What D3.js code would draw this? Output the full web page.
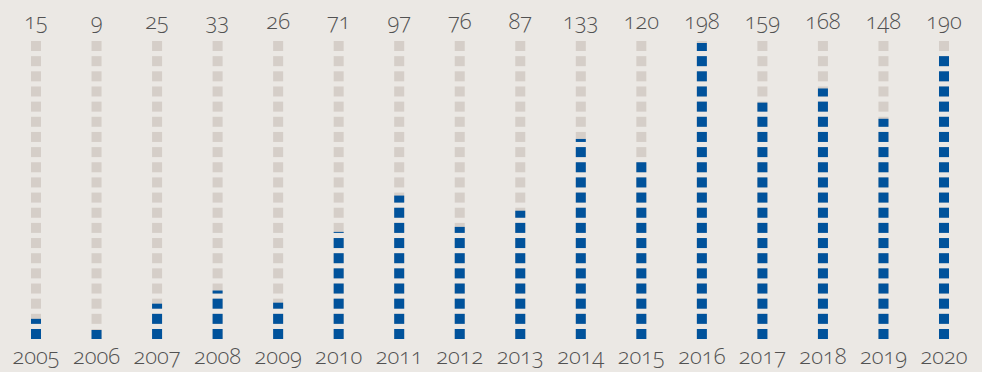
<!DOCTYPE html>
<html>
<head>
<meta charset="utf-8">
<script src="https://cdn.jsdelivr.net/npm/d3@7/dist/d3.min.js"></script>
<style>
  html, body { margin: 0; padding: 0; background: #ebe8e4; }
  svg { display: block; }
  text { font-family: "Open Sans", "Noto Sans", sans-serif; font-weight: 350; font-feature-settings: "onum" 1; fill: #525252; }
</style>
</head>
<body>
<svg id="chart" width="982" height="372"></svg>
<script>
// Annual counts, one column of squares per year; each square stands for 10 units
const years = ["2005","2006","2007","2008","2009","2010","2011","2012","2013","2014","2015","2016","2017","2018","2019","2020"];
const counts = [15, 9, 25, 33, 26, 71, 97, 76, 87, 133, 120, 198, 159, 168, 148, 190];
const unitsPerSquare = 10;
const squaresPerColumn = 20;

const svg = d3.select("#chart");

const x = d3.scalePoint().domain(years).range([36, 944]);
// vertical slot of each square (0 = bottom)
const slots = d3.range(squaresPerColumn);
const y = d3.scaleBand().domain(slots).range([339, 41]).paddingInner(0.34).paddingOuter(0);
const sq = y.bandwidth();

const data = years.map((yr, i) => ({ year: yr, value: counts[i] }));

const cols = svg.selectAll("g.col").data(data).join("g")
  .attr("class", "col")
  .attr("transform", d => `translate(${x(d.year) - sq / 2},0)`);

// grey background squares
cols.selectAll("rect.bg").data(slots).join("rect")
  .attr("class", "bg")
  .attr("x", 0)
  .attr("y", s => y(s))
  .attr("width", sq)
  .attr("height", sq)
  .attr("fill", "#d5cec8");

// blue fill: full squares plus a partial top square
cols.selectAll("rect.fg")
  .data(d => slots.map(s => ({ s, frac: Math.max(0, Math.min(1, d.value / unitsPerSquare - s)) })).filter(e => e.frac > 0))
  .join("rect")
  .attr("class", "fg")
  .attr("x", 0)
  .attr("y", e => y(e.s) + sq * (1 - e.frac))
  .attr("width", sq)
  .attr("height", e => sq * e.frac)
  .attr("fill", "#00529b");

// value labels
svg.selectAll("text.val").data(data).join("text")
  .attr("class", "val")
  .attr("x", d => x(d.year))
  .attr("y", 29)
  .attr("text-anchor", "middle")
  .attr("font-size", 22)
  .text(d => d.value);

// year labels
svg.selectAll("text.yr").data(data).join("text")
  .attr("class", "yr")
  .attr("x", d => x(d.year))
  .attr("y", 364)
  .attr("text-anchor", "middle")
  .attr("font-size", 22)
  .text(d => d.year);
</script>
</body>
</html>
